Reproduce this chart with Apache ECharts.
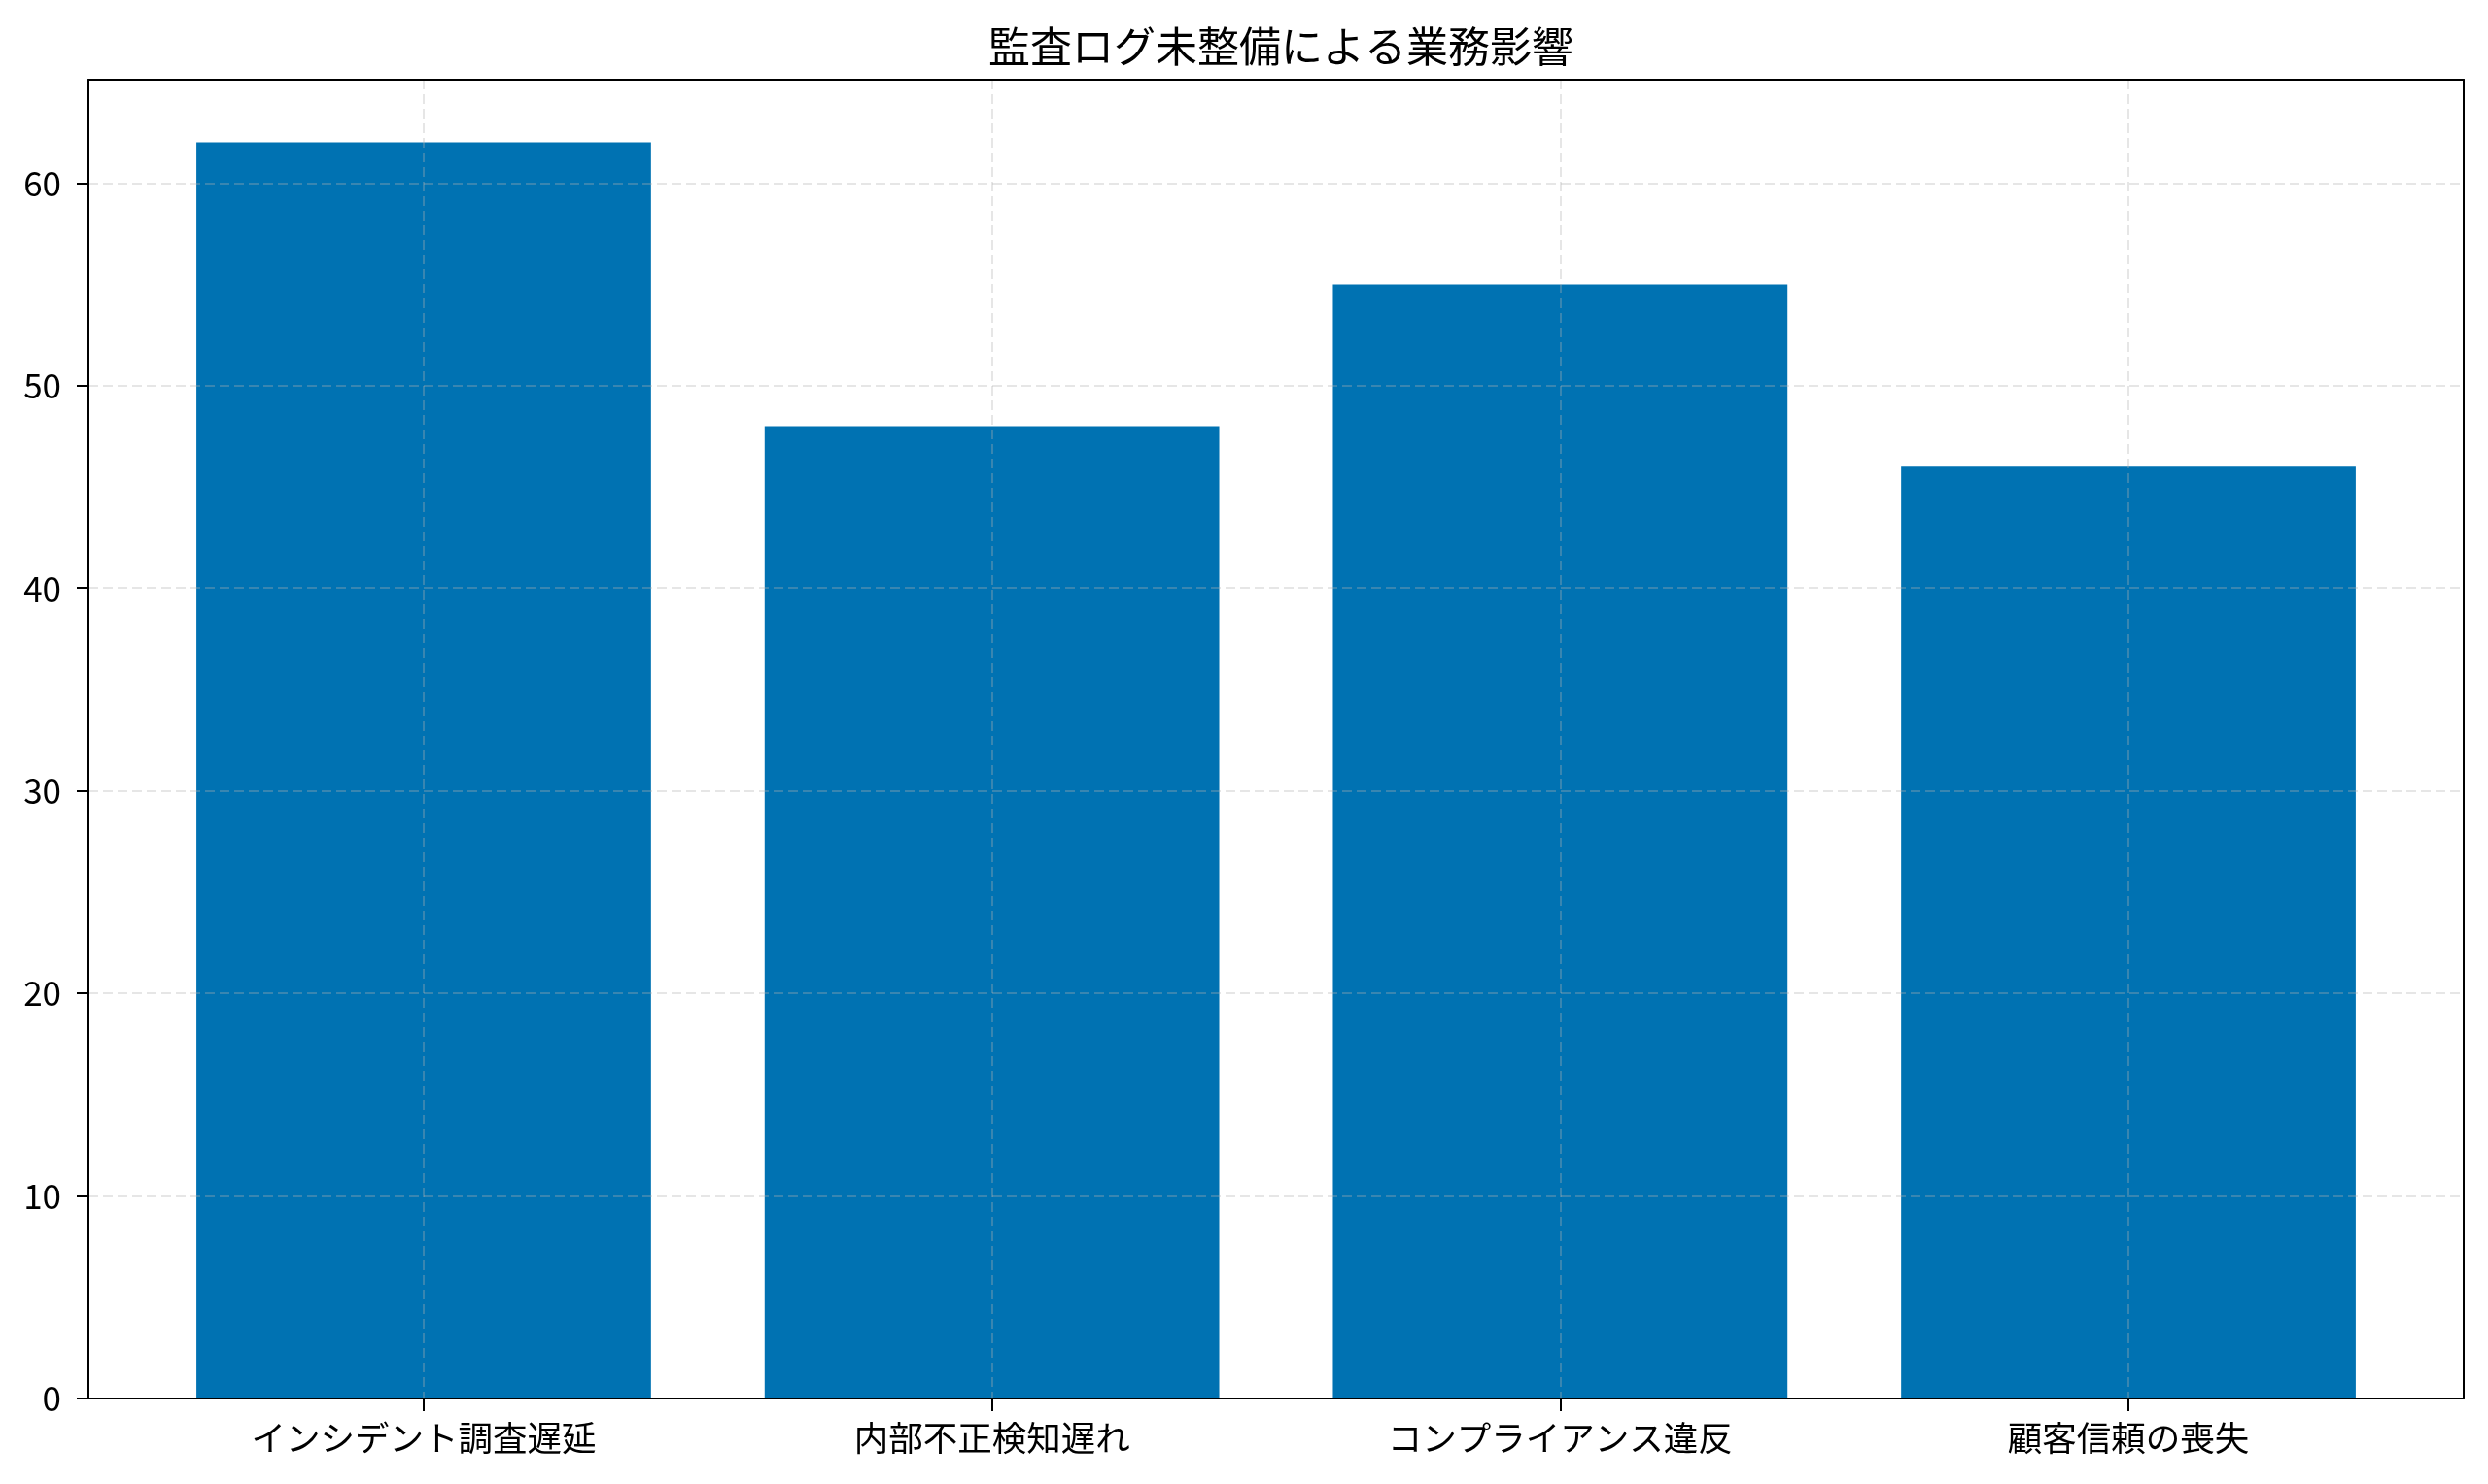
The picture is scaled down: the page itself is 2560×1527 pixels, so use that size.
<!DOCTYPE html>
<html>
<head>
<meta charset="utf-8">
<script src="https://cdn.jsdelivr.net/npm/echarts@6/dist/echarts.min.js"></script>
<style>
html,body{margin:0;padding:0;background:#fff;}
#chart{width:2560px;height:1527px;}
</style>
</head>
<body>
<div id="chart"></div>
<script>
// ---- data ----
var title = '監査ログ未整備による業務影響';
var categories = ['インシデント調査遅延', '内部不正検知遅れ', 'コンプライアンス違反', '顧客信頼の喪失'];
var values = [62, 48, 55, 46];
var yTicks = [0, 10, 20, 30, 40, 50, 60];

// ---- layout (matplotlib-like axes box) ----
var W = 2560, H = 1527;
var plotLeft = 91, plotRight = 2535, plotTop = 82, plotBottom = 1439;
var barFrac = 0.8, marginFrac = 0.05;
var n = categories.length;
var dataSpan = (n - 1) + barFrac;
var totalSpan = dataSpan * (1 + 2 * marginFrac);
var unit = (plotRight - plotLeft) / totalSpan;
var inset = (totalSpan - n) / 2 * unit;
var yMax = Math.max.apply(null, values) * (1 + marginFrac);

var font = '"Noto Sans CJK JP", "Noto Sans CJK SC", sans-serif';
var gridLine = { show: true, lineStyle: { color: 'rgba(176,176,176,0.32)', width: 2, type: [10, 5] } };
var frameLine = { show: true, onZero: false, lineStyle: { color: '#000', width: 2 } };

var chart = echarts.init(document.getElementById('chart'), null, { renderer: 'canvas', width: W, height: H });
chart.setOption({
  backgroundColor: '#fff',
  animation: false,
  title: {
    text: title,
    left: (plotLeft + plotRight) / 2,
    textAlign: 'center',
    top: 21,
    textStyle: { fontFamily: font, fontSize: 43, fontWeight: 'normal', color: '#000' }
  },
  grid: [
    { left: plotLeft, right: W - plotRight, top: plotTop, bottom: H - plotBottom, containLabel: false, outerBoundsMode: 'none' },
    { left: plotLeft + inset, right: W - plotRight + inset, top: plotTop, bottom: H - plotBottom, containLabel: false, outerBoundsMode: 'none' }
  ],
  xAxis: [
    { gridIndex: 0, type: 'value', min: 0, max: 1, position: 'bottom', z: 5,
      axisLine: frameLine, axisTick: { show: false }, axisLabel: { show: false }, splitLine: { show: false } },
    { gridIndex: 0, type: 'value', min: 0, max: 1, position: 'top', z: 5,
      axisLine: frameLine, axisTick: { show: false }, axisLabel: { show: false }, splitLine: { show: false } },
    { gridIndex: 1, type: 'category', data: categories, position: 'bottom', z: 3,
      axisLine: { show: false },
      axisTick: { show: true, alignWithLabel: true, length: 13, lineStyle: { color: '#000', width: 2 } },
      axisLabel: { show: true, interval: 0, margin: 23, fontFamily: font, fontSize: 35.5, color: '#000' },
      splitLine: Object.assign({ alignWithLabel: true, interval: 0 }, gridLine) }
  ],
  yAxis: [
    { gridIndex: 0, type: 'value', min: 0, max: yMax, interval: 10, position: 'left', z: 3,
      axisLine: frameLine,
      axisTick: { show: true, length: 12, customValues: yTicks, lineStyle: { color: '#000', width: 2 } },
      axisLabel: { show: true, margin: 28, customValues: yTicks, fontFamily: font, fontSize: 35, color: '#000' },
      splitLine: gridLine },
    { gridIndex: 0, type: 'value', min: 0, max: yMax, position: 'right', z: 5,
      axisLine: frameLine, axisTick: { show: false }, axisLabel: { show: false }, splitLine: { show: false } },
    { gridIndex: 1, type: 'value', min: 0, max: yMax, show: false }
  ],
  series: [{
    type: 'bar',
    xAxisIndex: 2,
    yAxisIndex: 2,
    data: values,
    barCategoryGap: ((1 - barFrac) * 100) + '%',
    itemStyle: { color: '#0072B2' },
    z: 2
  }]
});
</script>
</body>
</html>
